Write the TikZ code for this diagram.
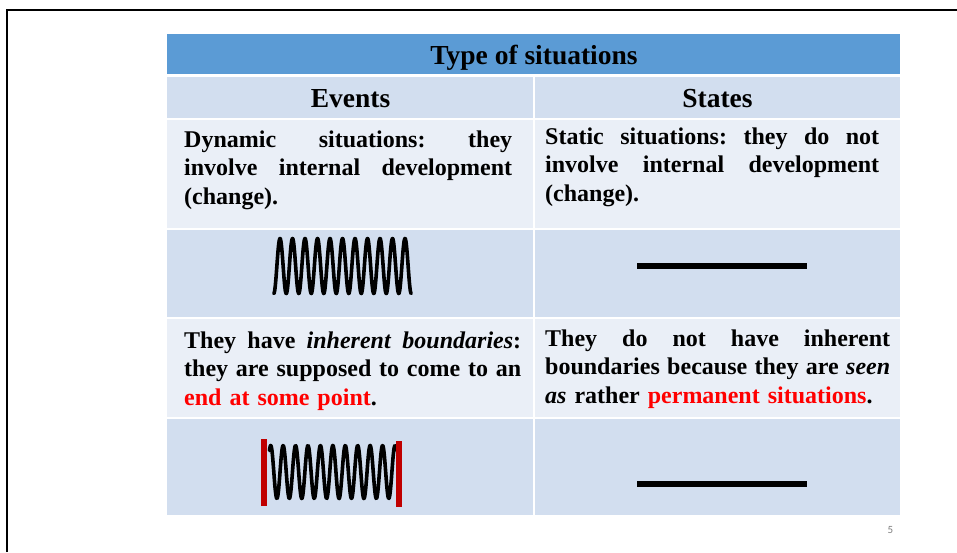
\documentclass[tikz,border=0pt]{standalone}
\usepackage{fontspec}
\setmainfont{Liberation Serif}
\newfontfamily\slidenumfont{Carlito}

\definecolor{headblue}{HTML}{5B9BD5}
\definecolor{cellmid}{HTML}{D2DEEF}
\definecolor{celllight}{HTML}{EAEFF7}
\definecolor{hilite}{HTML}{FF0000}
\definecolor{barred}{HTML}{C00000}
\definecolor{numgray}{HTML}{808080}

% a line spread to a given width (words separated by \gap), and a flush-left closing line
\newcommand\gap{\hskip 6pt plus 1fil\relax}
\newcommand\jline[2]{\hbox to #1{#2}\par}
\newcommand\lastjline[2]{\hbox to #1{#2\hfil}\par}

\tikzset{
  titletext/.style={anchor=base, inner sep=0pt, font=\bfseries\fontsize{27.5}{33}\selectfont},
  bodytext/.style={anchor=base west, inner sep=0pt, text width=#1,
                   font=\bfseries\frenchspacing\fontsize{24}{28.8}\selectfont},
  coil/.style={line width=3.6pt, black, line cap=round, line join=round},
  limitbar/.style={line width=6pt, barred},
  stateline/.style={line width=6pt, black},
}

\begin{document}
\begin{tikzpicture}[x=1pt,y=-1pt]
\useasboundingbox (0,0) rectangle (957,552);
\fill[white] (0,0) rectangle (957,552);

% slide frame
\draw[line width=2.5pt, line join=miter] (7,552) -- (7,10) -- (957,10);

% table cells
\fill[headblue]  (167,33.5)  rectangle (900,74.3);
\fill[cellmid]   (167,76.7)  rectangle (533,118.3);
\fill[cellmid]   (535,76.7)  rectangle (900,118.3);
\fill[celllight] (167,120)   rectangle (533,227.5);
\fill[celllight] (535,120)   rectangle (900,227.5);
\fill[cellmid]   (167,229.5) rectangle (533,317.3);
\fill[cellmid]   (535,229.5) rectangle (900,317.3);
\fill[celllight] (167,319.3) rectangle (533,416.7);
\fill[celllight] (535,319.3) rectangle (900,416.7);
\fill[cellmid]   (167,418.7) rectangle (533,515);
\fill[cellmid]   (535,418.7) rectangle (900,515);

% headings
\node[titletext] (title)  at (534,64)    {Type of situations};
\node[titletext] (events) at (350.5,107) {Events};
\node[titletext] (states) at (717.5,107) {States};

% descriptions
\node[bodytext=328pt] (evdesc) at (184,147) {%
  \jline{328pt}{Dynamic\gap situations:\gap they}%
  \jline{328pt}{involve\gap internal\gap development}%
  \lastjline{328pt}{(change).}};
\node[bodytext=334pt] (stdesc) at (545,144) {%
  \jline{334pt}{Static\gap situations:\gap they\gap do\gap not}%
  \jline{334pt}{involve\gap internal\gap development}%
  \lastjline{334pt}{(change).}};
\node[bodytext=337pt] (evbound) at (184,348) {%
  \jline{337pt}{They\gap have\gap \textit{inherent}\gap\textit{boundaries}:}%
  \jline{337pt}{they\gap are\gap supposed\gap to\gap come\gap to\gap an}%
  \lastjline{337pt}{\textcolor{hilite}{end at some point}.}};
\node[bodytext=345pt] (stbound) at (545,346) {%
  \jline{345pt}{They\gap do\gap not\gap have\gap inherent}%
  \jline{345pt}{boundaries\gap because\gap they\gap are\gap \textit{seen}}%
  \lastjline{345pt}{\textit{as} rather \textcolor{hilite}{permanent situations}.}};

% events: a coil of internal change
\draw[coil] plot[domain=0:11, samples=441]
  ({273.75+12.5*\x},{266+27.5*cos(360*\x)});

% events with boundaries: coil between two limits
\draw[coil] plot[domain=-0.1:10.1, samples=405]
  ({270.7+12.43*\x},{472-26.5*cos(360*\x)});
\draw[limitbar] (264,439) -- (264,506);
\draw[limitbar] (399,441) -- (399,507);

% states: flat lines
\draw[stateline] (637,266) -- (807,266);
\draw[stateline] (637,484) -- (807,484);

% slide number
\node[inner sep=0pt, text=numgray, font=\slidenumfont\fontsize{11}{13}\selectfont]
  (slidenum) at (890.5,529.5) {5};
\end{tikzpicture}
\end{document}
